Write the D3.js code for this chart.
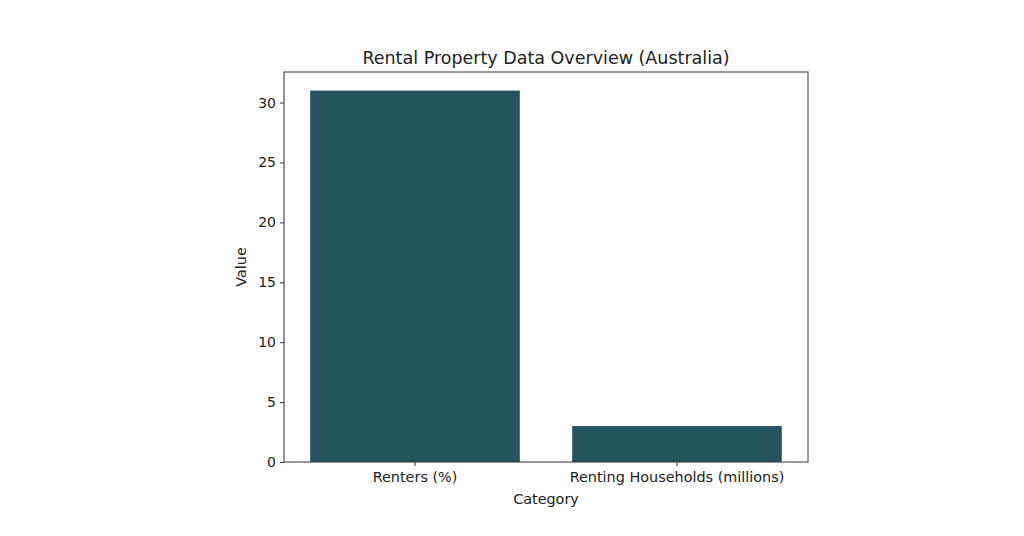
<!DOCTYPE html>
<html><head><meta charset="utf-8">
<script src="https://cdn.jsdelivr.net/npm/d3@7"></script>
<style>body{margin:0;background:#fff}svg{display:block}text{font-family:"DejaVu Sans",sans-serif;fill:#222}</style>
</head><body><svg id="c" width="1024" height="536"></svg>
<script>
const categories = ["Renters (%)", "Renting Households (millions)"];
const values = [31, 3];
const yTicks = [0, 5, 10, 15, 20, 25, 30];

const svg = d3.select("#c");
const L = 284, R = 808, T = 72, B = 462;
const x = d3.scaleBand().domain(categories).range([L, R]).paddingInner(0.2).paddingOuter(0.1);
const y = d3.scaleLinear().domain([0, 32.55]).range([B, T]);

svg.selectAll("rect.bar").data(values).join("rect").attr("class","bar")
  .attr("x", (d,i) => x(categories[i])).attr("width", x.bandwidth())
  .attr("y", d => y(d)).attr("height", d => B - y(d)).attr("fill", "#25525f");

svg.append("rect").attr("x", L).attr("y", T).attr("width", R-L).attr("height", B-T)
  .attr("fill","none").attr("stroke","#333").attr("stroke-width",1);

const ya = svg.append("g").attr("transform",`translate(${L},0)`)
  .call(d3.axisLeft(y).tickValues(yTicks).tickSize(4).tickPadding(4).tickFormat(d3.format("d")));
ya.select(".domain").remove();
ya.selectAll("text").style("font-size","14px").style("font-family","DejaVu Sans");
ya.selectAll("line").attr("stroke","#333");

const xa = svg.append("g").attr("transform",`translate(0,${B})`)
  .call(d3.axisBottom(x).tickSize(4).tickPadding(6));
xa.select(".domain").remove();
xa.selectAll("text").style("font-size","14.4px").style("font-family","DejaVu Sans");
xa.selectAll("line").attr("stroke","#333");

svg.append("text").attr("x",(L+R)/2).attr("y",64).attr("text-anchor","middle")
  .style("font-size","17.5px").text("Rental Property Data Overview (Australia)");
svg.append("text").attr("x",(L+R)/2).attr("y",504).attr("text-anchor","middle")
  .style("font-size","14.4px").text("Category");
svg.append("text").attr("transform",`translate(246,${(T+B)/2}) rotate(-90)`).attr("text-anchor","middle")
  .style("font-size","14.4px").text("Value");
</script></body></html>
